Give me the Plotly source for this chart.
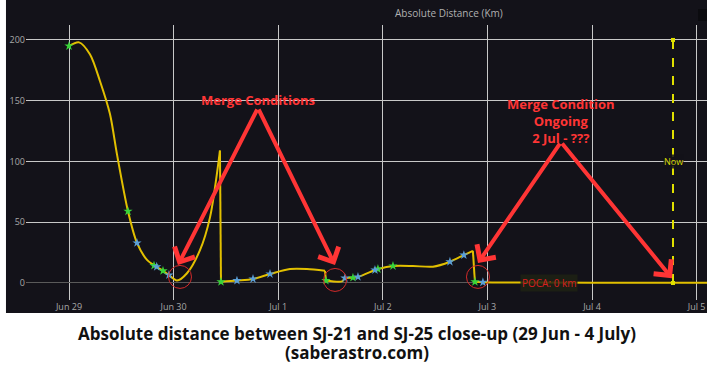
import plotly.graph_objects as go

# ---- data ----
seg1_t = ["2025-06-29 00:00", "2025-06-29 02:18", "2025-06-29 04:50", "2025-06-29 07:07",
          "2025-06-29 09:24", "2025-06-29 11:00", "2025-06-29 13:32", "2025-06-29 15:36",
          "2025-06-29 17:54", "2025-06-29 19:44", "2025-06-29 21:34", "2025-06-29 22:56",
          "2025-06-30 00:47", "2025-06-30 03:04", "2025-06-30 06:03", "2025-06-30 08:21",
          "2025-06-30 10:38"]
seg1_d = [195, 198, 188, 166, 139, 106, 59, 33, 19, 14, 10, 6.5, 2, 8, 27, 54, 109]

seg2_t = ["2025-06-30 10:52", "2025-06-30 14:32", "2025-06-30 18:13", "2025-06-30 22:07",
          "2025-07-01 02:42", "2025-07-01 06:36", "2025-07-01 10:44"]
seg2_d = [1, 2, 3.3, 7.4, 11.5, 11.5, 10]

seg3_t = ["2025-07-01 10:57", "2025-07-01 14:38", "2025-07-01 15:19", "2025-07-01 17:09",
          "2025-07-01 18:18", "2025-07-01 22:12", "2025-07-01 22:53", "2025-07-02 02:20",
          "2025-07-02 06:55", "2025-07-02 11:30", "2025-07-02 15:24", "2025-07-02 18:36",
          "2025-07-02 20:40"]
seg3_d = [2, 1.3, 4, 4.4, 5, 10.7, 11.5, 14, 14, 13.4, 17.5, 23, 26.5]

seg4_t = ["2025-07-02 21:08", "2025-07-02 22:58", "2025-07-03 12:00", "2025-07-04 12:00",
          "2025-07-05 06:00"]
seg4_d = [1, 0.6, 0.3, 0.2, 0.2]

green_t = ["2025-06-29 00:00", "2025-06-29 13:32", "2025-06-29 19:30", "2025-06-29 21:34",
           "2025-06-30 10:52", "2025-07-01 10:57", "2025-07-01 17:09", "2025-07-01 22:53",
           "2025-07-02 02:20", "2025-07-02 21:08"]
green_d = [195, 59, 14.3, 10, 1, 2, 4.4, 11.5, 14, 1]

blue_t = ["2025-06-29 15:36", "2025-06-29 20:07", "2025-06-29 22:56", "2025-06-30 14:32",
          "2025-06-30 18:13", "2025-06-30 22:07", "2025-07-01 15:19", "2025-07-01 18:18",
          "2025-07-01 22:12", "2025-07-02 15:24", "2025-07-02 18:36", "2025-07-02 22:58"]
blue_d = [33, 13.4, 6.6, 2, 3.3, 7.4, 4, 5, 10.7, 17.5, 23, 0.6]

circle_t = ["2025-06-30 01:28", "2025-07-01 13:03", "2025-07-02 21:50"]
circle_d = [5, 2.5, 5]

now_t = "2025-07-04 18:35"
now_range = [0, 200]

poca_t = "2025-07-03 14:10"
poca_label = "POCA: 0 km"

# arrows: tips (heads) and tails (apex of each inverted V)
arrow_tips_t = ["2025-06-30 01:00", "2025-07-01 13:02", "2025-07-02 21:50", "2025-07-04 18:20"]
arrow_tips_d = [14.7, 14.7, 16.4, 4]
arrow_tails_t = ["2025-06-30 19:21", "2025-06-30 19:21", "2025-07-03 16:52", "2025-07-03 16:52"]
arrow_tails_d = [144, 144, 116, 116]

label1 = "Merge Conditions"
label1_pos = ("2025-06-30 19:21", 150.6)
label2 = "Merge Condition<br>Ongoing<br>2 Jul - ???"
label2_pos = ("2025-07-03 16:52", 133.7)

chart_title = "Absolute Distance (Km)"
caption_lines = ["Absolute distance between SJ-21 and SJ-25 close-up (29 Jun - 4 July)",
                 "(saberastro.com)"]

x_range = ["2025-06-28 14:08", "2025-07-05 02:23"]
y_range = [-14.0, 212.3]

# ---- style ----
BG = "#131219"
LINE = "#e2c000"
RED = "#ff3535"

fig = go.Figure()
segs = [(seg1_t, seg1_d), (seg2_t, seg2_d), (seg3_t, seg3_d), (seg4_t, seg4_d)]
for t, d in segs:
    fig.add_trace(go.Scatter(x=t, y=d, mode="lines",
                             line=dict(color=LINE, width=2, shape="spline", smoothing=0.8),
                             hoverinfo="skip", showlegend=False))
for (ta, da), (tb, db) in zip(segs[:-1], segs[1:]):
    fig.add_trace(go.Scatter(x=[ta[-1], tb[0]], y=[da[-1], db[0]], mode="lines",
                             line=dict(color=LINE, width=2), hoverinfo="skip", showlegend=False))

fig.add_trace(go.Scatter(x=green_t, y=green_d, mode="markers",
                         marker=dict(symbol="star", size=7, color="#3ad43a"), showlegend=False))
fig.add_trace(go.Scatter(x=blue_t, y=blue_d, mode="markers",
                         marker=dict(symbol="star", size=7, color="#5b9fd6"), showlegend=False))

fig.add_trace(go.Scatter(x=circle_t, y=circle_d, mode="markers",
                         marker=dict(symbol="circle-open", size=23, color="#d42a2a",
                                     line=dict(width=1, color="#d42a2a")), showlegend=False))

fig.add_trace(go.Scatter(x=[now_t, now_t], y=now_range, mode="lines+markers",
                         line=dict(color="#e0e000", width=2, dash="dash"),
                         marker=dict(symbol="square", size=4, color="#e0e000"), showlegend=False))

# dark background panel
fig.add_shape(type="rect", xref="paper", yref="paper", x0=-0.0294, x1=1.0, y0=-0.0473, y1=1.0909,
              fillcolor=BG, line=dict(width=0), layer="below")
# small dark box at the top-right corner of the panel
fig.add_shape(type="rect", xref="paper", yref="paper", x0=0.9868, x1=1.0, y0=1.0145, y1=1.0582,
              fillcolor="#0b0b0f", line=dict(width=0), layer="below")
# white area below the (cropped) panel
fig.add_shape(type="rect", xref="paper", yref="paper", x0=-0.1, x1=1.1, y0=-0.3, y1=-0.0473,
              fillcolor="white", line=dict(width=0), layer="above")

for tt, td, at, ad in zip(arrow_tips_t, arrow_tips_d, arrow_tails_t, arrow_tails_d):
    fig.add_annotation(x=tt, y=td, ax=at, ay=ad, axref="x", ayref="y", xref="x", yref="y",
                       text="", showarrow=True, arrowhead=4, arrowsize=1.1, arrowwidth=4,
                       arrowcolor=RED, standoff=0, startstandoff=0)

fig.add_annotation(x=label1_pos[0], y=label1_pos[1], text=f"<b>{label1}</b>", showarrow=False,
                   yanchor="middle", font=dict(family="Open Sans", size=13, color=RED))
fig.add_annotation(x=label2_pos[0], y=label2_pos[1], text=f"<b>{label2}</b>", showarrow=False,
                   yanchor="middle", font=dict(family="Open Sans", size=13, color=RED))

fig.add_annotation(x=now_t, y=100, text="Now", showarrow=False, bgcolor="rgba(19,18,25,0.85)",
                   font=dict(size=9, color="#d8d800"), borderpad=0)
fig.add_annotation(x=poca_t, y=0, text=poca_label, showarrow=False, bgcolor="rgba(30,34,20,0.85)",
                   font=dict(size=10, color="#d82020"), borderpad=1)

fig.add_annotation(xref="paper", yref="paper", x=0.621, y=1.0436, text=chart_title,
                   xanchor="center", yanchor="middle",
                   showarrow=False, font=dict(size=10, color="#b0b0b0"))

for yy, line_txt in zip([-0.1200, -0.1891], caption_lines):
    fig.add_annotation(xref="paper", yref="paper", x=0.486, y=yy, text=f"<b>{line_txt}</b>",
                       xanchor="center", yanchor="middle", showarrow=False,
                       font=dict(family="Open Sans", size=17, color="#111111"))

fig.update_layout(
    width=714, height=366,
    margin=dict(l=26, r=7, t=25, b=66),
    paper_bgcolor="white", plot_bgcolor=BG,
    font=dict(family="Open Sans", color="#a8a8a8", size=9),
    showlegend=False,
)
fig.update_xaxes(range=x_range, type="date", dtick=86400000, showgrid=True,
                 gridcolor="#c8c8c8", gridwidth=1, zeroline=False, showline=False,
                 tickfont=dict(size=9, color="#a8a8a8"), ticks="", fixedrange=True)
fig.update_yaxes(range=y_range, dtick=50, showgrid=True, gridcolor="#c8c8c8", gridwidth=1,
                 zeroline=True, zerolinecolor="#5a5a5a", zerolinewidth=1, showline=False,
                 tickfont=dict(size=9, color="#a8a8a8"), ticks="", fixedrange=True)

fig.write_html("out.html", config={"displayModeBar": False},
               post_script="document.body.style.margin='0px';document.body.style.overflow='hidden';")
